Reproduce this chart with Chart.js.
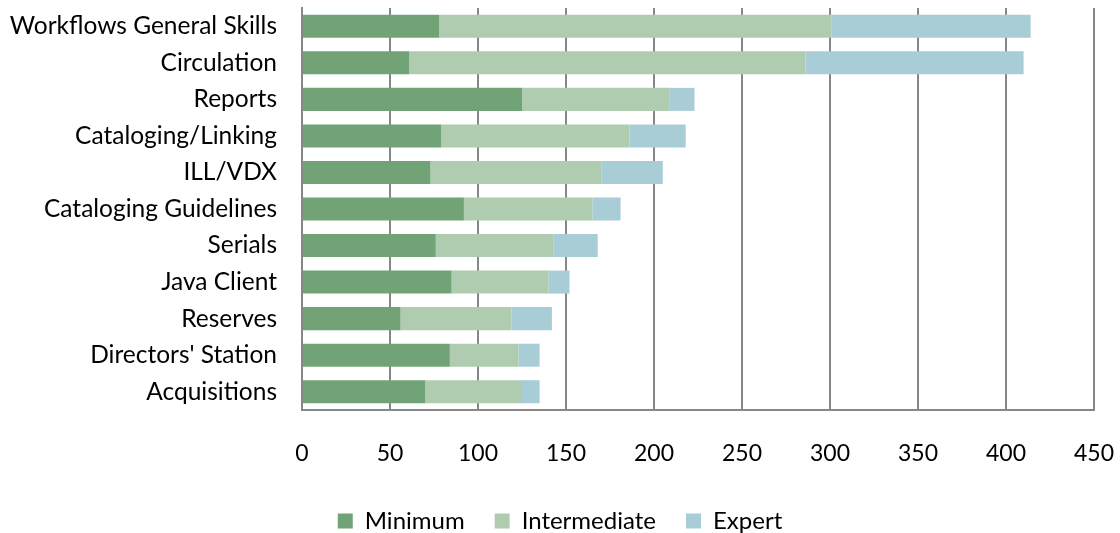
<!DOCTYPE html>
<html>
<head>
<meta charset="utf-8">
<script src="https://cdn.jsdelivr.net/npm/chart.js@4"></script>
<style>
  html, body { margin: 0; padding: 0; background: #fff; }
  #wrap { width: 1120px; height: 533px; position: relative; }
</style>
</head>
<body>
<div id="wrap"><canvas id="skillsChart"></canvas></div>
<script>
const categories = ['Workflows General Skills', 'Circulation', 'Reports', 'Cataloging/Linking', 'ILL/VDX',
    'Cataloging Guidelines', 'Serials', 'Java Client', 'Reserves', "Directors' Station", 'Acquisitions'];
const minimum      = [78, 61, 125, 79, 73, 92, 76, 85, 56, 84, 70];
const intermediate = [223, 225, 84, 107, 97, 73, 67, 55, 63, 39, 55];
const expert       = [113, 124, 14, 32, 35, 16, 25, 12, 23, 12, 10];
const xTicks = [0, 50, 100, 150, 200, 250, 300, 350, 400, 450];

const font = "Lato, 'Open Sans', sans-serif";
const gridGray = '#878787';

const ctx = document.getElementById('skillsChart').getContext('2d');
window.skillsChart = new Chart(ctx, {
    type: 'bar',
    data: {
        labels: categories,
        datasets: [
            { label: 'Minimum', data: minimum, backgroundColor: '#71A376' },
            { label: 'Intermediate', data: intermediate, backgroundColor: '#B0CCB0' },
            { label: 'Expert', data: expert, backgroundColor: '#A9CDD6' }
        ]
    },
    options: {
        indexAxis: 'y',
        responsive: true,
        maintainAspectRatio: false,
        animation: false,
        // negative bottom padding pushes the legend down close to the edge
        layout: { padding: { top: 8, right: 0, left: 0, bottom: -10 } },
        datasets: { bar: { barPercentage: 0.63, categoryPercentage: 1 } },
        plugins: {
            tooltip: { enabled: false },
            legend: {
                position: 'bottom',
                labels: {
                    font: { family: font, size: 24 },
                    color: '#000',
                    boxWidth: 15,
                    boxHeight: 15,
                    padding: 30
                }
            }
        },
        scales: {
            x: {
                stacked: true,
                min: 0,
                max: 450,
                afterBuildTicks: (scale) => { scale.ticks = xTicks.map(v => ({ value: v })); },
                ticks: { font: { family: font, size: 23 }, color: '#000', padding: 30 },
                grid: { color: gridGray, lineWidth: 2, drawTicks: false },
                border: { color: gridGray, width: 2 },
                afterFit: (scale) => {
                    scale.height = 69;
                    scale.paddingLeft = 0;
                    scale.paddingRight = 26;
                }
            },
            y: {
                stacked: true,
                ticks: { font: { family: font, size: 24.5 }, color: '#000', padding: 25 },
                grid: { display: false, drawTicks: false },
                border: { color: gridGray, width: 2 },
                afterFit: (scale) => {
                    scale.width = 302;
                    scale.paddingTop = 0;
                    scale.paddingBottom = 0;
                }
            }
        }
    }
});
</script>
</body>
</html>
